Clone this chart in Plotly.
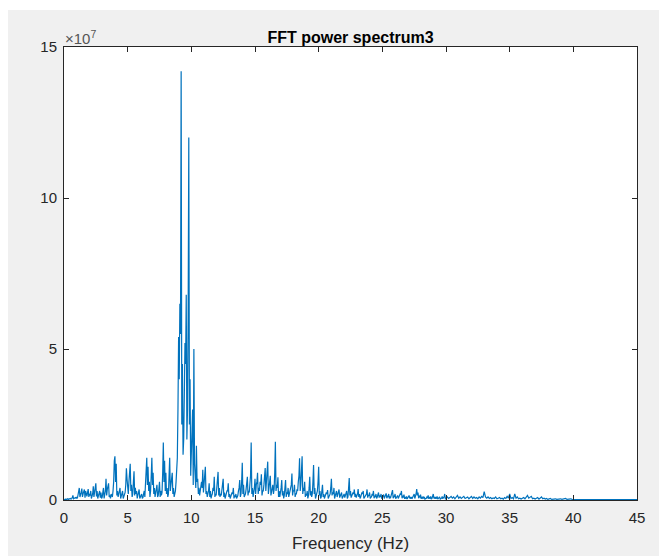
import plotly.graph_objects as go

# Spectrum values, in units of 1e7.
# power_1e7: one value every 0.1 Hz from 0 to 45 Hz
freq_step_hz = 0.1
power_1e7 = [
    # 0-1 Hz
    0.02, 0.03, 0.02, 0.04, 0.03, 0.05, 0.04, 0.15, 0.05, 0.08,
    # 1-2
    0.10, 0.20, 0.40, 0.15, 0.38, 0.20, 0.35, 0.30, 0.12, 0.36,
    # 2-3
    0.20, 0.30, 0.10, 0.45, 0.25, 0.55, 0.30, 0.15, 0.30, 0.25,
    # 3-4
    0.10, 0.40, 0.20, 0.70, 0.35, 0.55, 0.15, 0.20, 0.10, 0.60,
    # 4-5
    1.45, 1.20, 0.30, 0.20, 0.40, 0.15, 0.30, 0.10, 0.25, 1.05,
    # 5-6
    0.40, 0.60, 1.20, 0.50, 0.20, 0.95, 0.40, 0.30, 0.15, 0.35,
    # 6-7
    0.10, 0.20, 0.08, 0.30, 0.50, 1.40, 1.10, 0.60, 0.30, 1.40,
    # 7-8
    0.90, 0.40, 0.20, 0.50, 0.15, 0.60, 0.30, 0.25, 1.90, 1.30,
    # 8-9
    0.90, 0.40, 0.20, 1.40, 0.50, 0.90, 0.40, 0.20, 0.60, 1.40,
    # 9-10
    5.40, 6.50, 14.20, 4.50, 2.00, 5.20, 6.80, 3.00, 12.00, 4.00,
    # 10-11
    1.50, 3.00, 5.00, 0.80, 1.80, 0.70, 0.40, 0.30, 0.60, 1.00,
    # 11-12
    0.50, 1.10, 0.30, 0.20, 0.55, 0.30, 0.15, 0.40, 0.77, 0.20,
    # 12-13
    0.35, 0.93, 0.40, 0.20, 0.30, 0.70, 0.25, 0.15, 0.30, 0.55,
    # 13-14
    0.20, 0.10, 0.25, 0.40, 0.15, 0.20, 0.10, 0.30, 0.66, 0.20,
    # 14-15
    1.23, 0.50, 0.15, 0.35, 0.77, 0.30, 0.45, 1.90, 0.40, 0.20,
    # 15-16
    0.70, 0.50, 0.90, 0.40, 0.60, 0.85, 0.30, 0.50, 1.06, 0.60,
    # 16-17
    1.27, 0.40, 0.80, 0.30, 0.50, 0.35, 1.93, 0.50, 0.75, 0.30,
    # 17-18
    0.20, 0.66, 0.30, 0.15, 0.66, 0.25, 0.40, 0.20, 0.50, 0.88,
    # 18-19
    0.30, 0.50, 0.20, 0.35, 0.60, 1.38, 0.50, 1.45, 0.40, 0.60,
    # 19-20
    0.20, 0.30, 0.15, 0.77, 0.30, 0.20, 1.16, 0.40, 0.15, 0.30,
    # 20-21
    1.10, 0.30, 0.10, 0.50, 0.20, 0.15, 0.25, 0.33, 0.10, 0.20,
    # 21-22
    0.70, 0.25, 0.40, 0.15, 0.30, 0.20, 0.35, 0.15, 0.25, 0.10,
    # 22-23
    0.20, 0.15, 0.30, 0.10, 0.73, 0.30, 0.15, 0.25, 0.35, 0.20,
    # 23-24
    0.15, 0.36, 0.20, 0.10, 0.25, 0.30, 0.10, 0.20, 0.35, 0.15,
    # 24-25
    0.25, 0.10, 0.20, 0.30, 0.12, 0.20, 0.10, 0.25, 0.15, 0.20,
    # 25-26
    0.08, 0.18, 0.10, 0.22, 0.12, 0.20, 0.10, 0.15, 0.33, 0.12,
    # 26-27
    0.20, 0.08, 0.15, 0.10, 0.20, 0.30, 0.12, 0.18, 0.08, 0.12,
    # 27-28
    0.06, 0.15, 0.10, 0.08, 0.12, 0.20, 0.10, 0.36, 0.25, 0.12,
    # 28-29
    0.18, 0.08, 0.12, 0.10, 0.05, 0.10, 0.15, 0.08, 0.12, 0.05,
    # 29-30
    0.20, 0.10, 0.08, 0.12, 0.06, 0.10, 0.05, 0.12, 0.08, 0.20,
    # 30-31
    0.06, 0.10, 0.05, 0.08, 0.12, 0.06, 0.10, 0.04, 0.08, 0.15,
    # 31-32
    0.06, 0.10, 0.05, 0.08, 0.12, 0.05, 0.08, 0.10, 0.04, 0.08,
    # 32-33
    0.12, 0.05, 0.10, 0.06, 0.08, 0.04, 0.10, 0.06, 0.12, 0.08,
    # 33-34
    0.28, 0.10, 0.06, 0.10, 0.05, 0.08, 0.04, 0.07, 0.05, 0.10,
    # 34-35
    0.04, 0.06, 0.08, 0.04, 0.06, 0.03, 0.08, 0.05, 0.12, 0.06,
    # 35-36
    0.20, 0.05, 0.08, 0.04, 0.20, 0.06, 0.10, 0.04, 0.06, 0.03,
    # 36-37
    0.05, 0.08, 0.04, 0.10, 0.15, 0.06, 0.08, 0.12, 0.04, 0.06,
    # 37-38
    0.03, 0.05, 0.08, 0.03, 0.06, 0.10, 0.04, 0.06, 0.03, 0.05,
    # 38-39
    0.02, 0.03, 0.05, 0.02, 0.03, 0.02, 0.04, 0.02, 0.03, 0.02,
    # 39-40
    0.04, 0.02, 0.03, 0.02, 0.05, 0.02, 0.03, 0.02, 0.04, 0.02,
    # 40-41
    0.02, 0.01, 0.02, 0.01, 0.03, 0.01, 0.02, 0.01, 0.02, 0.01,
    # 41-42
    0.02, 0.01, 0.02, 0.01, 0.02, 0.01, 0.02, 0.01, 0.02, 0.01,
    # 42-43
    0.02, 0.01, 0.02, 0.01, 0.02, 0.01, 0.02, 0.01, 0.02, 0.01,
    # 43-44
    0.02, 0.01, 0.02, 0.01, 0.02, 0.01, 0.02, 0.01, 0.02, 0.01,
    # 44-45
    0.02, 0.01, 0.02, 0.01, 0.02, 0.01, 0.02, 0.01, 0.02, 0.01,
    0.01,
]

# power_mid_1e7: values at the half steps 0.05, 0.15, ... 29.95 Hz (denser part of the spectrum)
mid_offset_hz = 0.05
power_mid_1e7 = [
    # 0-1 Hz
    0.01, 0.02, 0.03, 0.02, 0.04, 0.03, 0.08, 0.04, 0.06, 0.05,
    # 1-2
    0.05, 0.30, 0.10, 0.25, 0.10, 0.30, 0.08, 0.20, 0.25, 0.10,
    # 2-3
    0.15, 0.05, 0.20, 0.10, 0.40, 0.12, 0.05, 0.20, 0.08, 0.05,
    # 3-4
    0.25, 0.05, 0.30, 0.15, 0.45, 0.10, 0.05, 0.15, 0.30, 1.30,
    # 4-5
    0.60, 0.15, 0.10, 0.30, 0.05, 0.20, 0.05, 0.15, 0.50, 0.70,
    # 5-6
    0.20, 0.90, 0.30, 0.10, 0.60, 0.15, 0.20, 0.05, 0.20, 0.05,
    # 6-7
    0.15, 0.05, 0.20, 0.10, 0.90, 0.50, 0.30, 0.10, 0.80, 0.50,
    # 7-8
    0.20, 0.10, 0.30, 0.10, 0.35, 0.10, 0.15, 0.90, 0.60, 0.30,
    # 8-9
    0.20, 0.10, 0.80, 0.30, 0.50, 0.20, 0.10, 0.30, 0.90, 3.00,
    # 9-10
    4.00, 5.50, 2.50, 1.50, 3.50, 4.50, 2.00, 6.00, 2.50, 0.80,
    # 10-11
    2.20, 0.50, 1.20, 0.40, 0.60, 0.20, 0.15, 0.30, 0.40, 0.25,
    # 11-12
    0.60, 0.20, 0.10, 0.30, 0.10, 0.05, 0.20, 0.30, 0.10, 0.15,
    # 12-13
    0.50, 0.15, 0.10, 0.15, 0.40, 0.10, 0.05, 0.20, 0.30, 0.10,
    # 13-14
    0.05, 0.15, 0.20, 0.05, 0.10, 0.05, 0.15, 0.40, 0.10, 0.60,
    # 14-15
    0.20, 0.10, 0.20, 0.50, 0.15, 0.25, 0.80, 0.20, 0.10, 0.40,
    # 15-16
    0.20, 0.60, 0.20, 0.30, 0.50, 0.15, 0.30, 0.70, 0.30, 0.80,
    # 16-17
    0.20, 0.50, 0.15, 0.30, 0.20, 0.90, 0.30, 0.40, 0.10, 0.10,
    # 17-18
    0.40, 0.15, 0.05, 0.40, 0.10, 0.20, 0.10, 0.30, 0.50, 0.15,
    # 18-19
    0.30, 0.10, 0.20, 0.30, 0.80, 0.30, 0.90, 0.20, 0.30, 0.10,
    # 19-20
    0.15, 0.05, 0.40, 0.15, 0.10, 0.60, 0.20, 0.05, 0.20, 0.60,
    # 20-21
    0.15, 0.05, 0.30, 0.10, 0.05, 0.15, 0.20, 0.05, 0.10, 0.40,
    # 21-22
    0.15, 0.20, 0.05, 0.15, 0.10, 0.20, 0.08, 0.15, 0.05, 0.10,
    # 22-23
    0.08, 0.15, 0.05, 0.40, 0.15, 0.08, 0.15, 0.20, 0.10, 0.08,
    # 23-24
    0.20, 0.10, 0.05, 0.15, 0.20, 0.05, 0.10, 0.20, 0.08, 0.15,
    # 24-25
    0.05, 0.10, 0.15, 0.06, 0.10, 0.05, 0.15, 0.08, 0.10, 0.04,
    # 25-26
    0.10, 0.05, 0.12, 0.06, 0.10, 0.05, 0.08, 0.20, 0.06, 0.10,
    # 26-27
    0.04, 0.08, 0.05, 0.12, 0.18, 0.06, 0.10, 0.04, 0.06, 0.03,
    # 27-28
    0.08, 0.05, 0.04, 0.06, 0.12, 0.05, 0.20, 0.15, 0.06, 0.10,
    # 28-29
    0.04, 0.06, 0.05, 0.03, 0.05, 0.08, 0.04, 0.06, 0.03, 0.10,
    # 29-30
    0.05, 0.04, 0.06, 0.03, 0.05, 0.03, 0.06, 0.04, 0.10, 0.03,
]

x_tick_values = [0, 5, 10, 15, 20, 25, 30, 35, 40, 45]
y_tick_values_1e7 = [0, 5, 10, 15]
y_tick_labels = ["0", "5", "10", "15"]
y_unit = 1e7

# merge the two sample sets in frequency order
pairs = [(round(i * freq_step_hz, 2), v) for i, v in enumerate(power_1e7)]
pairs += [(round(i * freq_step_hz + mid_offset_hz, 2), v) for i, v in enumerate(power_mid_1e7)]
pairs.sort(key=lambda p: p[0])
frequency_hz = [p[0] for p in pairs]
power = [p[1] * y_unit for p in pairs]

W, H = 659, 557
ML, MR, MT, MB = 64, 22, 47, 57
PW, PH = W - ML - MR, H - MT - MB

FONT = "Liberation Sans, Arial, Helvetica, sans-serif"
AXC = "#262626"

fig = go.Figure()
fig.add_trace(go.Scatter(
    x=frequency_hz, y=power, mode="lines",
    line=dict(color="#0072BD", width=1.2),
    hoverinfo="x+y", showlegend=False,
))

axis_common = dict(
    showline=True, linecolor=AXC, linewidth=1, mirror="ticks",
    ticks="inside", ticklen=5, tickcolor=AXC, tickwidth=1,
    showgrid=False, zeroline=False, automargin=False,
    tickfont=dict(family=FONT, size=15, color=AXC),
)

fig.update_layout(
    width=W, height=H,
    margin=dict(l=ML, r=MR, t=MT, b=MB, pad=0, autoexpand=False),
    paper_bgcolor="#F0F0F0", plot_bgcolor="white",
    font=dict(family=FONT, color=AXC),
    title=dict(
        text="<b>FFT power spectrum3</b>",
        font=dict(family=FONT, size=16, color="black"),
        x=(ML + PW / 2) / W, xanchor="center",
        y=1 - 37 / H, yanchor="middle",
        xref="container", yref="container",
        automargin=False,
    ),
    xaxis=dict(
        range=[0, 45], tickvals=x_tick_values, ticklabelstandoff=4, **axis_common,
        title=dict(text="Frequency (Hz)", font=dict(family=FONT, size=17, color=AXC), standoff=12),
    ),
    yaxis=dict(
        range=[0, 15 * y_unit],
        tickvals=[v * y_unit for v in y_tick_values_1e7], ticktext=y_tick_labels,
        ticklabelstandoff=3,
        **axis_common,
    ),
    shapes=[
        # white strips at the top, left and bottom edges of the window
        dict(type="rect", xref="paper", yref="paper",
             x0=-ML / PW, x1=1 + MR / PW, y0=1 + (MT - 10) / PH, y1=1 + MT / PH,
             fillcolor="white", line=dict(width=0), layer="below"),
        dict(type="rect", xref="paper", yref="paper",
             x0=-ML / PW, x1=-(ML - 8) / PW, y0=-MB / PH, y1=1 + MT / PH,
             fillcolor="white", line=dict(width=0), layer="below"),
        dict(type="rect", xref="paper", yref="paper",
             x0=-ML / PW, x1=1 + MR / PW, y0=-MB / PH, y1=-(MB - 1) / PH,
             fillcolor="white", line=dict(width=0), layer="below"),
    ],
    annotations=[
        dict(text="×10<sup>7</sup>", xref="paper", yref="paper", x=0, y=1,
             xanchor="left", yanchor="bottom", showarrow=False, xshift=-1, yshift=-2,
             font=dict(family=FONT, size=15, color="#555555")),
    ],
)

fig.write_html("out.html")
